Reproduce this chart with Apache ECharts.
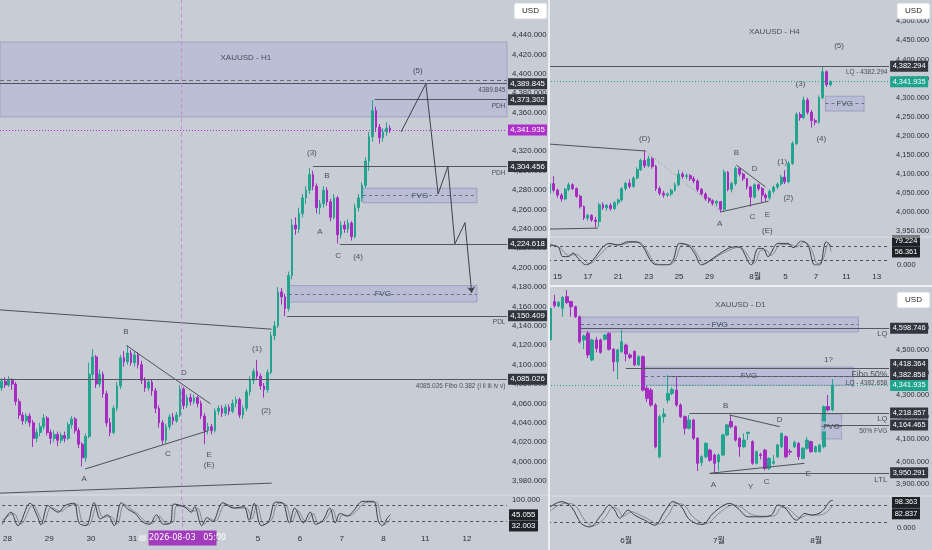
<!DOCTYPE html>
<html><head><meta charset="utf-8">
<script src="https://cdn.jsdelivr.net/npm/echarts@6/dist/echarts.min.js"></script>
<style>html,body{margin:0;padding:0;background:#c8cdd5;}#c{width:932px;height:550px;}</style>
</head><body><div id="c"></div>
<script>
// ================= DATA =================
// H1 candles [open, close, low, high]
const H1_CANDLES = [
[4076,4083,4073,4086],[4083,4079,4076,4087],[4079,4084,4077,4088],[4084,4080,4074,4086],
[4080,4062,4058,4082],[4062,4048,4044,4065],[4048,4042,4038,4051],[4042,4047,4039,4050],
[4047,4040,4036,4050],[4040,4024,4015,4043],[4024,4030,4020,4034],[4030,4036,4026,4040],
[4036,4045,4033,4049],[4045,4030,4027,4047],[4030,4024,4018,4033],[4024,4028,4020,4032],
[4028,4022,4016,4031],[4022,4027,4019,4030],[4027,4024,4020,4031],[4024,4038,4022,4041],
[4038,4044,4034,4047],[4044,4032,4029,4046],[4032,4018,4014,4035],[4018,4004,3995,4020],
[4004,4026,4000,4029],[4026,4090,4024,4102],[4090,4108,4084,4116],[4108,4080,4076,4110],
[4080,4090,4077,4095],[4090,4070,4066,4093],[4070,4040,4036,4073],[4040,4030,4026,4045],
[4030,4055,4028,4058],[4055,4078,4052,4082],[4078,4107,4075,4110],[4107,4103,4098,4114],
[4103,4112,4100,4120],[4112,4102,4099,4115],[4102,4110,4098,4114],[4110,4100,4096,4113],
[4100,4084,4080,4104],[4084,4076,4072,4087],[4076,4082,4073,4085],[4082,4073,4068,4085],
[4073,4055,4050,4076],[4055,4040,4035,4058],[4040,4022,4018,4043],[4022,4036,4019,4039],
[4036,4046,4033,4049],[4046,4042,4038,4050],[4042,4048,4040,4051],[4048,4075,4046,4079],
[4075,4058,4054,4077],[4058,4066,4055,4069],[4066,4062,4058,4070],[4062,4066,4059,4069],
[4066,4060,4056,4068],[4060,4047,4044,4063],[4047,4032,4018,4050],[4032,4036,4028,4040],
[4036,4032,4028,4039],[4032,4052,4030,4055],[4052,4055,4048,4058],[4055,4050,4046,4058],
[4050,4056,4047,4059],[4056,4052,4048,4059],[4052,4060,4050,4064],[4060,4064,4056,4067],
[4064,4048,4045,4066],[4048,4055,4044,4058],[4055,4072,4052,4075],[4072,4084,4068,4088],
[4084,4093,4080,4096],[4093,4088,4084,4105],[4088,4078,4074,4091],[4078,4074,4066,4081],
[4074,4092,4071,4095],[4092,4130,4090,4134],[4130,4140,4125,4145],[4140,4175,4138,4180],
[4175,4170,4162,4179],[4170,4158,4150,4173],[4158,4192,4155,4196],[4192,4244,4188,4250],
[4244,4240,4234,4252],[4240,4256,4236,4262],[4256,4272,4252,4276],[4272,4280,4266,4284],
[4280,4296,4276,4303],[4296,4284,4280,4300],[4284,4262,4256,4287],[4262,4266,4255,4270],
[4266,4280,4262,4284],[4280,4268,4264,4283],[4268,4252,4248,4271],[4252,4272,4250,4276],
[4272,4234,4225,4274],[4234,4244,4230,4248],[4244,4240,4236,4248],[4240,4246,4236,4250],
[4246,4232,4228,4248],[4232,4262,4230,4266],[4262,4272,4258,4276],[4272,4285,4268,4288],
[4285,4310,4282,4314],[4310,4335,4300,4340],[4335,4362,4330,4373],[4362,4345,4340,4366],
[4345,4334,4328,4348],[4334,4340,4330,4344],[4340,4344,4336,4350],[4344,4341.935,4339,4347]
];
const H1_DAY_LABELS = ['28','29','30','31','3','4','5','6','7','8','11','12'];
const H1_DAY_SLOTS  = [1,13,25,37,49,61,73,85,97,109,121,133];
const H1_STOCH_K = [[-0.5,10],[2,55],[4,5],[7.5,88],[9.6,40],[10.6,8],[12.6,80],[13.6,70],[15.6,55],[17.6,80],[20.1,88],[21.6,15],[23.6,5],[25.9,90],[27.7,30],[29.7,45],[31.7,5],[33.7,90],[35.7,65],[37.7,50],[39.7,20],[41.8,10],[43.8,45],[45.8,10],[47.8,15],[48.8,85],[51.8,75],[53.8,55],[54.8,75],[56.8,5],[58.4,35],[59.9,20],[62.9,90],[65.9,70],[68.9,75],[70.4,25],[71.9,88],[73.9,5],[76,20],[78,92],[80,90],[82,15],[83.5,70],[86,15],[88,55],[89.5,10],[91.6,25],[93.6,70],[95.1,15],[96.6,50],[98.6,40],[100.1,55],[103.1,95],[106.1,95],[107.6,20],[108.7,5],[110.2,35],[111,45.055]];
const H1_STOCH_D = [[-0.5,25],[2.8,50],[4.8,10],[8.3,82],[10.4,35],[11.4,12],[13.4,72],[14.4,68],[16.4,58],[18.4,76],[20.9,85],[22.4,22],[24.4,8],[26.7,82],[28.5,35],[30.5,40],[32.5,10],[34.5,85],[36.5,66],[38.5,48],[40.5,22],[42.6,14],[44.6,40],[46.6,14],[48.6,18],[49.6,78],[52.6,72],[54.6,58],[55.6,70],[57.6,10],[59.2,30],[60.7,22],[63.7,85],[66.7,70],[69.7,70],[71.2,30],[72.7,82],[74.7,10],[76.8,25],[78.8,88],[80.8,85],[82.8,20],[84.3,62],[86.8,20],[88.8,50],[90.3,14],[92.4,28],[94.4,65],[95.9,20],[97.4,45],[99.4,42],[100.9,55],[103.9,90],[106.9,92],[108.4,25],[109.5,10],[111,32.003]];
const H1_LAST = 4341.935;
const H1_STOCH_LAST = [45.055, 32.003];
const H1_LEVELS = [[-0.5,4389.845],[106.7,4373.302],[89,4304.456],[96.7,4224.618],[81.6,4150.409],[-0.5,4085.026]];
const H1_DASHED = [4393.6];
const H1_TAGS = [4389.845,4373.302,4304.456,4224.618,4150.409,4085.026];
const H1_TRENDS = [[-0.5,4156.5,77.2,4136.6],[-0.5,3967.5,77.2,3977.8],[23.8,3992.3,59,4031.8],[35.7,4119.7,59.7,4059.6]];
const H1_ZIGZAG = [[114.2,4340],[121.3,4389.8],[124.8,4276],[127.6,4304.4],[129.6,4224.6],[132.5,4246.5],[134.4,4174]];
const H1_FVG = [[103.3,135.9,4282,4267],[82.1,135.9,4181.5,4164.6]];
const H1_ZONE = [-0.5,144.5,4432.8,4355.5];
const H1_CURSOR = 51.3;
const H1_CURSOR_LABEL = '\u25A4 2026-08-03   05:00';
const H1_LABELS = [[69.8,4416.3,'XAUUSD - H1'],[119,4402.9,'(5)'],[88.7,4318.4,'(3)'],[93,4294.6,'B'],[91,4237,'A'],[96.2,4212.2,'C'],[101.9,4211.1,'(4)'],[35.5,4133.8,'B'],[52.1,4091.5,'D'],[73,4116.3,'(1)'],[75.6,4052.4,'(2)'],[47.5,4008,'C'],[59.3,4007,'E'],[59.3,3996.7,'(E)'],[23.6,3982.3,'A']];
const H1_NOTES = [[4383.3,'4389.845'],[4366.8,'PDH'],[4297.7,'PDH'],[4143.6,'PDL'],[4078,'4085.026 Fibo 0.382 (i ii iii iv v)']];

// H4
const H4_CANDLES = [
[4050,4075,4040,4080],[4075,4058,4052,4095],[4058,4045,4038,4062],[4045,4035,4028,4050],
[4035,4060,4032,4064],[4060,4072,4055,4078],[4072,4062,4058,4076],[4062,4042,4038,4065],
[4042,4015,4010,4046],[4015,3985,3980,4018],[3985,3992,3978,3996],[3992,3980,3975,3995],
[3980,3976,3960,3988],[3976,4020,3962,4025],[4020,4012,4006,4026],[4012,4018,4004,4022],
[4018,4010,4004,4024],[4010,4025,4006,4030],[4025,4032,4018,4036],[4032,4062,4028,4066],
[4062,4076,4056,4080],[4076,4068,4062,4086],[4068,4090,4064,4094],[4090,4112,4086,4118],
[4112,4136,4108,4140],[4136,4122,4116,4163],[4122,4140,4118,4148],[4140,4120,4114,4144],
[4120,4062,4056,4124],[4062,4050,4044,4068],[4050,4045,4038,4056],[4045,4048,4040,4052],
[4048,4058,4042,4062],[4058,4072,4054,4078],[4072,4100,4068,4111],[4100,4094,4088,4106],
[4094,4096,4086,4102],[4096,4088,4082,4100],[4088,4082,4076,4094],[4082,4060,4054,4086],
[4060,4048,4044,4064],[4048,4036,4030,4052],[4036,4030,4024,4040],[4030,4024,4018,4034],
[4024,4028,4016,4032],[4028,4008,4000,4030],[4008,4105,4004,4112],[4105,4060,4055,4108],
[4060,4075,4052,4080],[4075,4115,4070,4120],[4115,4100,4094,4118],[4100,4088,4082,4104],
[4088,4066,4060,4090],[4066,4040,4015,4070],[4040,4072,4036,4076],[4072,4062,4056,4076],
[4062,4045,4025,4066],[4045,4038,4028,4050],[4038,4055,4032,4060],[4055,4066,4050,4070],
[4066,4074,4060,4078],[4074,4092,4070,4098],[4092,4080,4074,4110],[4080,4128,4076,4134],
[4128,4180,4124,4186],[4180,4256,4176,4262],[4256,4248,4240,4262],[4248,4294,4244,4303],
[4294,4262,4256,4300],[4262,4240,4222,4268],[4240,4236,4228,4246],[4236,4300,4232,4306],
[4300,4368,4296,4380],[4368,4334,4328,4372],[4334,4341.935,4330,4346]
];
const H4_DAY_LABELS = ['15','17','21','23','25','29','8월','5','7','11','13'];
const H4_DAY_SLOTS  = [2,10,18,26,34,42,54,62,70,78,86];
const H4_STOCH_K = [[-0.5,83],[2.1,76],[3.4,35],[4.8,35],[6.1,50],[7.4,28],[9.6,0],[11.3,20],[14,76],[15.7,90],[17.9,83],[20.6,97],[22.7,97],[24.5,76],[26.7,14],[28.4,0],[31.1,0],[32.4,20],[34.1,90],[36.3,83],[38.1,48],[39.9,0],[41.6,14],[44.2,42],[46.9,69],[49.1,76],[50.4,69],[53,0],[54.8,69],[56.1,69],[57.4,35],[60,90],[62.7,90],[64,72],[66.2,100],[67.9,83],[69.7,0],[71,0],[72.7,97],[74,79.224]];
const H4_STOCH_D = [[-0.5,90],[2.8,70],[4.2,45],[5.6,40],[6.9,45],[8.2,32],[10.4,5],[12.1,25],[14.8,70],[16.5,85],[18.7,85],[21.4,94],[23.5,94],[25.3,65],[27.5,10],[29.2,2],[31.9,3],[33.2,30],[34.9,85],[37.1,80],[38.9,40],[40.7,5],[42.4,18],[45,45],[47.7,65],[49.9,75],[51.2,60],[53.8,8],[55.6,62],[56.9,62],[58.2,40],[60.8,85],[63.5,85],[64.8,75],[67,95],[68.7,70],[70.5,5],[71.8,20],[73.3,90],[74,56.361]];
const H4_LAST = 4341.935;
const H4_STOCH_LAST = [79.224, 56.361];
const H4_LEVELS = [[-0.5,4382.294]];
const H4_TAGS = [4382.294];
const H4_TRENDS = [[-0.5,4178.8,25.2,4160.5],[-0.5,3956,12.7,3958.6],[45,4000.8,57.7,4029],[49.2,4123.8,56.9,4066.2]];
const H4_FAINT = [[25.2,4160.5,45,4003]];
const H4_FVG = [[72.7,82.9,4304,4265]];
const H4_LABELS = [[59.2,4472,'XAUUSD - H4'],[76.3,4435,'(5)'],[66.1,4336,'(3)'],[71.6,4192,'(4)'],[25,4192,'(D)'],[49.2,4155,'B'],[54,4113,'D'],[61.3,4131,'(1)'],[62.9,4037,'(2)'],[44.8,3969,'A'],[53.4,3988,'C'],[57.4,3993,'E'],[57.4,3951,'(E)']];
const H4_NOTES = [[4367,'LQ - 4382.294']];

// D1
const D1_CANDLES = [
[4546,4688,4540,4695],[4718,4700,4690,4748],[4698,4714,4692,4720],[4688,4737,4650,4742],
[4740,4714,4708,4770],[4718,4695,4650,4722],[4695,4650,4645,4700],[4650,4538,4530,4655],
[4546,4564,4505,4570],[4576,4479,4465,4585],[4456,4546,4450,4552],[4546,4508,4490,4560],
[4546,4490,4485,4552],[4549,4568,4544,4574],[4576,4504,4498,4580],[4504,4448,4405,4510],
[4448,4501,4370,4506],[4494,4538,4488,4593],[4523,4483,4450,4530],[4479,4468,4460,4486],
[4494,4434,4428,4500],[4434,4471,4430,4478],[4471,4321,4315,4476],[4329,4284,4268,4340],
[4321,4254,4246,4330],[4254,4067,4060,4262],[4022,4202,4015,4210],[4202,4214,4175,4240],
[4276,4306,4262,4389],[4306,4324,4298,4332],[4321,4254,4246,4382],[4254,4202,4196,4262],
[4202,4150,4122,4208],[4150,4187,4144,4210],[4187,4105,4098,4192],[4105,3993,3958,4110],
[3996,4022,3980,4028],[4022,4082,4016,4088],[4052,4007,4000,4058],[4030,3993,3946,4036],
[4000,4030,3960,4036],[4030,4120,4024,4126],[4120,4165,4114,4170],[4180,4157,4150,4210],
[4157,4097,4090,4162],[4105,4067,4022,4110],[4067,4097,4060,4127],[4127,4131,4098,4136],
[4090,3993,3986,4096],[3993,4045,3988,4050],[4032,4028,4010,4040],[4052,3970,3962,4058],
[3970,4015,3962,4020],[3993,4000,3986,4030],[4022,4075,4016,4080],[4067,4127,4060,4130],
[4112,4022,4016,4118],[4047,4043,4030,4056],[4067,4087,4062,4094],[4082,4022,4008,4088],
[4015,4060,4010,4066],[4060,4097,4054,4110],[4090,4045,4040,4094],[4045,4067,4040,4072],
[4045,4075,4040,4080],[4067,4247,4060,4252],[4247,4232,4226,4299],[4232,4341.935,4226,4371]
];
const D1_DAY_LABELS = ['6월','7월','8월'];
const D1_DAY_SLOTS  = [18,40,63];
const D1_STOCH_K = [[-0.5,70],[2.7,94],[5,76],[7.4,16],[9.4,4],[12.1,46],[14.1,82],[15.3,64],[16.5,35],[18.5,64],[20,46],[22.4,28],[24.8,10],[27.1,58],[29.1,94],[31.1,76],[32.7,35],[34.6,16],[36.2,13],[38.2,46],[39.8,68],[42.5,88],[44.5,70],[46.9,40],[50.1,40],[52.4,46],[54,82],[55.6,72],[58.4,28],[60.3,52],[61.9,46],[64.3,58],[66.3,96],[67,98.363]];
const D1_STOCH_D = [[-0.5,55],[3.5,88],[5.8,82],[8.2,28],[10.2,8],[12.9,35],[14.9,74],[16.1,66],[17.3,42],[19.3,58],[20.8,50],[23.2,32],[25.6,14],[27.9,45],[29.9,88],[31.9,80],[33.5,45],[35.4,22],[37,16],[39,38],[40.6,60],[43.3,82],[45.3,74],[47.7,48],[50.9,42],[53.2,44],[54.8,74],[56.4,70],[59.2,36],[61.1,48],[62.7,46],[65.1,52],[67,82.837]];
const D1_LAST = 4341.935;
const D1_STOCH_LAST = [98.363, 82.837];
const D1_LEVELS = [[7.3,4598.746],[18,4418.364],[27.9,4382.858],[33.1,4218.857],[65.1,4164.465],[37.9,3950.291]];
const D1_TAGS = [4598.746,4418.364,4382.858,4218.857,4164.465,3950.291];
const D1_TRENDS = [[37.9,3948,60.4,3992.8],[42.6,4209.4,54.5,4157]];
const D1_FAINT = [];
const D1_FVG = [[7.3,73.2,4649,4581.6],[22.5,72,4424.6,4343],[64.4,69.2,4214,4102]];
const D1_LABELS = [[45.2,4702.7,'XAUUSD - D1'],[66.1,4456,'1?'],[41.7,4249.8,'B'],[54.5,4187,'D'],[38.8,3895.5,'A'],[47.6,3886.5,'Y'],[51.4,3909,'C'],[61.3,3947,'E']];
const D1_NOTES = [[4571,'LQ'],[4389,'Fibo 50%'],[4353,'LQ - 4382.858'],[4190,'LQ'],[4138,'50% FVG'],[3918,'LTL']];

// ================= STYLE / LAYOUT =================
const FONT = "'Liberation Sans', Arial, 'Noto Sans CJK KR', sans-serif";
const UP = '#22a48f', DOWN = '#a52bc1', TXT = '#2b2e38', TAGBG = '#33363f';
const LVL = '#54575f', TEAL = '#1fa58e', MAG = '#ae2fca';
const FVG_FILL = 'rgba(130,135,220,0.22)', FVG_TXTBG = '#b9bed7';
const NOTE_SIZE = {'Fibo 50%':8.5, 'LQ':7.5, 'LTL':8};

function fmt(v){ return Number(v).toLocaleString('en-US',{minimumFractionDigits:3,maximumFractionDigits:3}); }

const grids=[], xAxis=[], yAxis=[], series=[];

function addPanel(p){
  const g = grids.length;
  grids.push({left:p.left, right:p.right, top:p.mainTop, bottom:p.mainBottom});
  grids.push({left:p.left, right:p.right, top:p.stTop, bottom:p.stBottom});
  const xi = xAxis.length, yi = yAxis.length;
  const cats = Array.from({length:p.N}, (_, i) => 's' + i);
  const lab = {}; p.daySlots.forEach((s,k)=>{ lab[s] = p.dayLabels[k]; });
  const edge = p.N - 0.5;
  xAxis.push({type:'category', gridIndex:g, data:cats, boundaryGap:true, show:false});
  xAxis.push({type:'value', gridIndex:g, min:-0.5, max:edge, show:false});
  xAxis.push({type:'category', gridIndex:g+1, data:cats, boundaryGap:true,
    axisLine:{show:false}, axisTick:{show:false}, splitLine:{show:false},
    axisLabel:{interval:0, margin:p.dateMargin, fontSize:8, color:TXT, fontFamily:FONT, formatter:(v,i)=>lab[i]||''}});
  xAxis.push({type:'value', gridIndex:g+1, min:-0.5, max:edge, show:false});
  yAxis.push({type:'value', gridIndex:g, position:'right', min:p.ymin, max:p.ymax, interval:p.yint,
    axisLine:{show:false}, axisTick:{show:false}, splitLine:{show:false},
    axisLabel:{margin:p.ymargin, fontSize:p.fs, color:TXT, fontFamily:FONT, showMinLabel:false, showMaxLabel:false,
      formatter:v=> v>p.labelMax ? '' : fmt(v)}});
  yAxis.push({type:'value', gridIndex:g+1, position:'right', min:0, max:100, interval:100,
    axisLine:{show:false}, axisTick:{show:false}, splitLine:{show:false},
    axisLabel:{margin:p.ymargin, fontSize:p.fs, color:TXT, fontFamily:FONT, showMinLabel:p.st0, showMaxLabel:p.st100, formatter:v=>fmt(v)}});

  // candles
  series.push({type:'candlestick', xAxisIndex:xi, yAxisIndex:yi, data:p.candles, barWidth:p.barW, silent:true,
    itemStyle:{color:UP, color0:DOWN, borderColor:UP, borderColor0:DOWN, borderWidth:1}});

  // annotations
  const ml = [];
  const seg = (a,b,style,endSym) => ml.push([{coord:a, lineStyle:style}, {coord:b, lineStyle:style, symbol:endSym||'none', symbolSize:6}]);
  const solid = {color:LVL, width:1, type:'solid'};
  p.levels.forEach(l => seg([l[0], l[1]], [edge, l[1]], solid));
  (p.dashed||[]).forEach(v => seg([-0.5, v], [edge, v], {color:'#676a73', width:1, type:[4,3]}));
  seg([-0.5, p.last], [edge, p.last], {color:p.lastColor, width:1, type:[1,2]});
  p.trends.forEach(t => seg([t[0],t[1]],[t[2],t[3]], {color:'#4e5159', width:1, type:'solid'}));
  (p.faint||[]).forEach(t => seg([t[0],t[1]],[t[2],t[3]], {color:'rgba(80,83,92,0.35)', width:1, type:[2,2]}));
  if (p.zigzag) for (let i=0;i<p.zigzag.length-1;i++)
    seg(p.zigzag[i], p.zigzag[i+1], {color:'#3e4149', width:1, type:'solid'}, i===p.zigzag.length-2?'arrow':'none');
  p.fvg.forEach(f => seg([f[0], (f[2]+f[3])/2], [f[1], (f[2]+f[3])/2], {color:'#6a6e80', width:1, type:[3,3]}));
  if (p.cursor!==undefined) seg([p.cursor, p.ymin], [p.cursor, p.ymax], {color:'#c58fd2', width:1, type:[4,3]});

  const areas = [];
  if (p.zone) areas.push([{coord:[p.zone[0], p.zone[2]], itemStyle:{color:'rgba(130,135,220,0.2)', borderColor:'rgba(95,100,150,0.35)', borderWidth:1}}, {coord:[p.zone[1], p.zone[3]]}]);
  p.fvg.forEach(f => areas.push([{coord:[f[0], f[2]], itemStyle:{color:FVG_FILL, borderColor:'rgba(110,115,165,0.45)', borderWidth:1}}, {coord:[f[1], f[3]]}]));

  const tag = (v, bg, dy) => ({coord:[edge, v], symbol:'rect', symbolSize:[p.tagW, 11], symbolOffset:[p.tagW/2 + 1, dy||0],
    itemStyle:{color:bg}, label:{show:true, position:'inside', formatter:fmt(v), color:'#fff', fontSize:p.fs, fontFamily:FONT}});
  const mp = p.tags.map((v,k) => tag(v, TAGBG, (p.tagShift||[])[k]));
  mp.push(tag(p.last, p.lastColor, 0));

  series.push({type:'line', xAxisIndex:xi+1, yAxisIndex:yi, data:[], clip:false, silent:true, z:3,
    markLine:{silent:true, symbol:['none','none'], label:{show:false}, animation:false, data:ml},
    markArea:{silent:true, animation:false, data:areas},
    markPoint:{silent:true, animation:false, data:mp}});

  // texts
  const txt = [];
  p.labels.forEach(t => txt.push({value:[t[0], t[1]], label:{show:true, position:'inside', formatter:t[2], fontSize:8, color:TXT, fontFamily:FONT}}));
  p.notes.forEach(t => txt.push({value:[edge-0.3, t[0]], label:{show:true, position:'left', distance:0, formatter:t[1], fontSize:NOTE_SIZE[t[1]]||6.5, color:TXT, fontFamily:FONT}}));
  p.fvg.forEach(f => txt.push({value:[(f[0]+f[1])/2, (f[2]+f[3])/2], label:{show:true, position:'inside', formatter:'FVG', fontSize:8, color:TXT, fontFamily:FONT, backgroundColor:FVG_TXTBG, padding:[1,2]}}));
  series.push({type:'scatter', xAxisIndex:xi+1, yAxisIndex:yi, symbolSize:1, itemStyle:{color:'transparent'}, silent:true, clip:false, z:4, data:txt});

  // stochastic
  series.push({type:'line', xAxisIndex:xi+3, yAxisIndex:yi+1, data:p.stD, smooth:0.35, symbol:'none', silent:true,
    lineStyle:{color:'#858892', width:1}});
  series.push({type:'line', xAxisIndex:xi+3, yAxisIndex:yi+1, data:p.stK, smooth:0.35, symbol:'none', silent:true,
    lineStyle:{color:'#3a3d45', width:1},
    markLine:{silent:true, symbol:['none','none'], label:{show:false}, animation:false,
      lineStyle:{color:'#4e5159', width:1, type:[3,3]}, data:[{yAxis:80},{yAxis:20}]}});
  const sml = [];
  if (p.cursor!==undefined) sml.push([{coord:[p.cursor,0], lineStyle:{color:'#c58fd2', width:1, type:[4,3]}},{coord:[p.cursor,100]}]);
  const smp = p.stLast.map((v,k) => ({coord:[edge, v], symbol:'rect', symbolSize:[p.stTagW, 11], symbolOffset:[p.stTagW/2 + 2, p.stShift[k]],
    itemStyle:{color:'#1f2127'}, label:{show:true, position:'inside', formatter:fmt(v), color:'#fff', fontSize:p.fs, fontFamily:FONT}}));
  if (p.cursorLabel) smp.push({coord:[p.cursor, 0], symbol:'rect', symbolSize:[68,15], symbolOffset:[0, 11],
    itemStyle:{color:'#a23bbd'}, label:{show:true, position:'inside', formatter:p.cursorLabel, color:'#fff', fontSize:8, fontFamily:"'DejaVu Sans', "+FONT}});
  series.push({type:'line', xAxisIndex:xi+3, yAxisIndex:yi+1, data:[], clip:false, silent:true, z:5,
    markLine:{silent:true, symbol:['none','none'], label:{show:false}, animation:false, data:sml},
    markPoint:{silent:true, animation:false, data:smp}});
}

addPanel({left:0, right:425, mainTop:0, mainBottom:49.6, stTop:500, stBottom:23, N:145,
  ymin:3960, ymax:4476.1, yint:20, ymargin:5, labelMax:4440, fs:7.8, dateMargin:8, barW:2.2, tagW:39, stTagW:29,
  candles:H1_CANDLES, dayLabels:H1_DAY_LABELS, daySlots:H1_DAY_SLOTS, stK:H1_STOCH_K, stD:H1_STOCH_D,
  st0:false, st100:true, stLast:H1_STOCH_LAST, stShift:[0,7.6],
  levels:H1_LEVELS, dashed:H1_DASHED, tags:H1_TAGS, last:H1_LAST, lastColor:MAG, trends:H1_TRENDS,
  zigzag:H1_ZIGZAG, fvg:H1_FVG, zone:H1_ZONE, cursor:H1_CURSOR, cursorLabel:H1_CURSOR_LABEL,
  labels:H1_LABELS, notes:H1_NOTES});

addPanel({left:548, right:42, mainTop:0, mainBottom:299.5, stTop:241, stBottom:285, N:90,
  ymin:3900, ymax:4555.8, yint:50, ymargin:7, labelMax:4500, fs:7.4, dateMargin:8, barW:2.4, tagW:38, stTagW:28,
  candles:H4_CANDLES, dayLabels:H4_DAY_LABELS, daySlots:H4_DAY_SLOTS, stK:H4_STOCH_K, stD:H4_STOCH_D,
  st0:true, st100:false, stLast:H4_STOCH_LAST, stShift:[-5,0.5],
  levels:H4_LEVELS, tags:H4_TAGS, last:H4_LAST, lastColor:TEAL, trends:H4_TRENDS, faint:H4_FAINT,
  fvg:H4_FVG, labels:H4_LABELS, notes:H4_NOTES});

addPanel({left:548, right:42, mainTop:283.3, mainBottom:43.7, stTop:500, stBottom:22, N:81,
  ymin:3800, ymax:4800, yint:100, ymargin:7, labelMax:4650, fs:7.4, dateMargin:9, barW:3, tagW:38, stTagW:28,
  candles:D1_CANDLES, dayLabels:D1_DAY_LABELS, daySlots:D1_DAY_SLOTS, stK:D1_STOCH_K, stD:D1_STOCH_D,
  st0:true, st100:false, stLast:D1_STOCH_LAST, stShift:[2,9],
  levels:D1_LEVELS, tags:D1_TAGS, tagShift:[0,-4,-1.5,0,0,0], last:D1_LAST, lastColor:TEAL, trends:D1_TRENDS, faint:D1_FAINT,
  fvg:D1_FVG, labels:D1_LABELS, notes:D1_NOTES});

function usd(x, y){
  return [{type:'rect', shape:{x:x, y:y, width:33, height:16, r:2}, style:{fill:'#ffffff', stroke:'#d3d6dc'}, z:100},
          {type:'text', x:x+16.5, y:y+8, style:{text:'USD', fill:'#222', font:'8px Liberation Sans', align:'center', verticalAlign:'middle'}, z:101}];
}
const graphic = [
  {type:'line', shape:{x1:0, y1:495, x2:548, y2:495}, style:{stroke:'#dadde3', lineWidth:1}, z:50},
  {type:'line', shape:{x1:548, y1:237, x2:932, y2:237}, style:{stroke:'#dadde3', lineWidth:1}, z:50},
  {type:'line', shape:{x1:548, y1:496, x2:932, y2:496}, style:{stroke:'#dadde3', lineWidth:1}, z:50},
  {type:'line', shape:{x1:549, y1:0, x2:549, y2:550}, style:{stroke:'#eceef2', lineWidth:2}, z:60},
  {type:'line', shape:{x1:548, y1:286, x2:932, y2:286}, style:{stroke:'#eceef2', lineWidth:2}, z:60},
  ...usd(514,3), ...usd(897,3), ...usd(897,292)
];

const chart = echarts.init(document.getElementById('c'), null, {renderer:'canvas'});
chart.setOption({
  backgroundColor:'#c8cdd5', animation:false, textStyle:{fontFamily:FONT},
  grid:grids, xAxis:xAxis, yAxis:yAxis, series:series, graphic:graphic
});
</script></body></html>
